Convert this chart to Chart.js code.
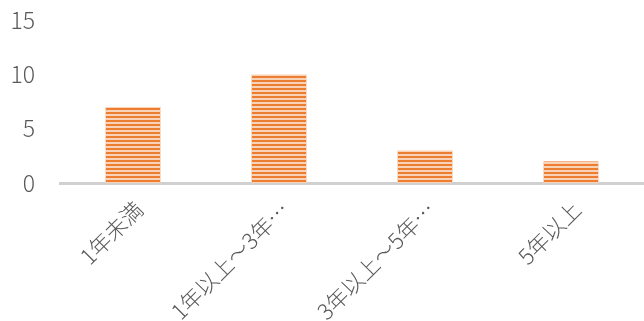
<!DOCTYPE html>
<html>
<head>
<meta charset="utf-8">
<script src="https://cdn.jsdelivr.net/npm/chart.js@4"></script>
<style>
    html, body { margin: 0; padding: 0; background: #fff; }
    #wrap { width: 644px; height: 321px; }
</style>
</head>
<body>
<div id="wrap"><canvas id="myCanvas"></canvas></div>
<script>
const categories = ['1年未満', '1年以上～3年…', '3年以上～5年…', '5年以上'];
const counts = [7, 10, 3, 2];
const yTicks = [0, 5, 10, 15];

// 横縞のパターン
function stripePattern() {
    const c = document.createElement('canvas');
    c.width = 4;
    c.height = 4;
    const g = c.getContext('2d');
    g.fillStyle = '#F9D3B8';
    g.fillRect(0, 0, 4, 4);
    g.fillStyle = '#ED7D31';
    g.fillRect(0, 0, 4, 2);
    return g.createPattern(c, 'repeat');
}

const ctx = document.getElementById("myCanvas");
new Chart(ctx, {
    type: 'bar',
    data: {
        labels: categories,
        datasets: [{
            data: counts,
            backgroundColor: stripePattern(),
            borderColor: 'rgba(248, 203, 173, 0.7)',
            borderWidth: {left: 1, right: 1, top: 0, bottom: 0},
            categoryPercentage: 1,
            barPercentage: 0.384
        }]
    },
    options: {
        responsive: true,
        maintainAspectRatio: false,
        animation: false,
        layout: {
            padding: 0
        },
        plugins: {
            legend: {display: false},
            tooltip: {enabled: false}
        },
        scales: {
            x: {
                grid: {display: false},
                border: {display: true, color: '#D0D0D0', width: 3},
                afterFit: function (axis) {
                    axis.height = 138;
                },
                ticks: {
                    color: '#595959',
                    font: {family: '"Noto Sans CJK JP"', size: 22, weight: 300},
                    minRotation: 45,
                    maxRotation: 45,
                    padding: 5,
                    labelOffset: 6
                }
            },
            y: {
                min: 0,
                max: 15,
                grid: {display: false, tickLength: 19},
                border: {display: false},
                afterBuildTicks: function (axis) {
                    axis.ticks = yTicks.map(v => ({value: v}));
                },
                afterFit: function (axis) {
                    axis.width = 60;
                },
                ticks: {
                    color: '#595959',
                    font: {family: '"Noto Sans CJK JP"', size: 23, weight: 300},
                    padding: 6
                }
            }
        }
    }
});
</script>
</body>
</html>
